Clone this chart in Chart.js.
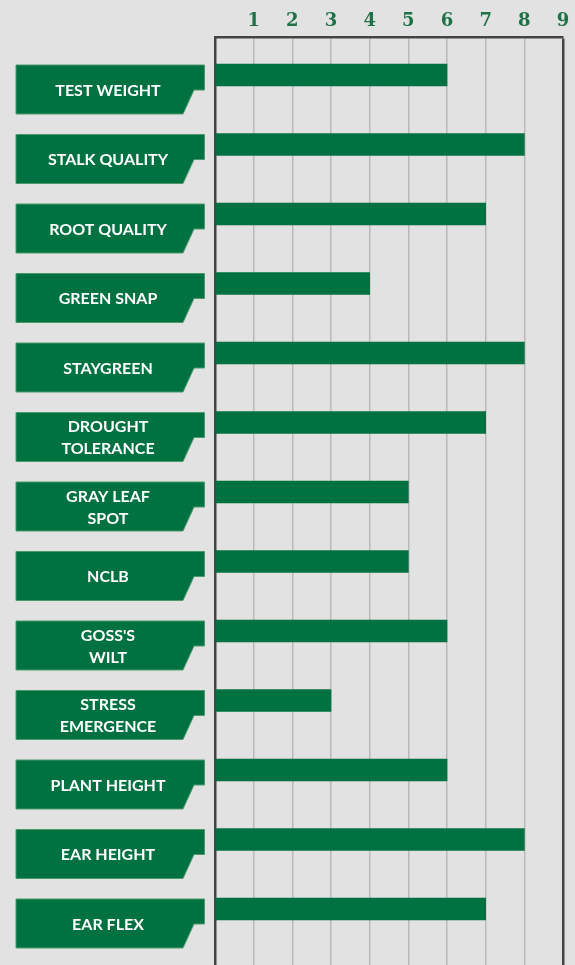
<!DOCTYPE html>
<html lang="en">
  <head>
    <meta charset="utf-8" />
    <title>trait ratings</title>
    <script src="https://cdn.jsdelivr.net/npm/chart.js@4.4.0/dist/chart.umd.min.js"></script>
    <style>
      html, body { margin: 0; padding: 0; background: #e2e2e2; }
      #wrap { width: 575px; height: 965px; position: relative; }
    </style>
  </head>
  <body>
    <div id="wrap"><canvas id="traits"></canvas></div>

    <script>
      // trait names (one array entry per label line)
      var traits = [
        ["TEST WEIGHT"],
        ["STALK QUALITY"],
        ["ROOT QUALITY"],
        ["GREEN SNAP"],
        ["STAYGREEN"],
        ["DROUGHT", "TOLERANCE"],
        ["GRAY LEAF", "SPOT"],
        ["NCLB"],
        ["GOSS'S", "WILT"],
        ["STRESS", "EMERGENCE"],
        ["PLANT HEIGHT"],
        ["EAR HEIGHT"],
        ["EAR FLEX"],
      ];
      var ratings = [6, 8, 7, 4, 8, 7, 5, 5, 6, 3, 6, 8, 7];
      var scaleTicks = [1, 2, 3, 4, 5, 6, 7, 8, 9];

      var green = "#007140";

      // green tag shapes with the trait names, left of the plot
      var traitTags = {
        id: "traitTags",
        afterDraw: function (chart) {
          var ctx = chart.ctx;
          var y = chart.scales.y;
          ctx.save();
          traits.forEach(function (lines, i) {
            var c = y.getPixelForValue(i);
            var top = c - 10, bottom = c + 39;
            var mid = top + 25;
            ctx.beginPath();
            ctx.moveTo(16, top);
            ctx.lineTo(204.5, top);
            ctx.lineTo(204.5, mid);
            ctx.lineTo(194, mid);
            ctx.lineTo(183, bottom);
            ctx.lineTo(16, bottom);
            ctx.closePath();
            ctx.fillStyle = green;
            ctx.fill();
            ctx.strokeStyle = "#4c9a6b";
            ctx.lineWidth = 1;
            ctx.stroke();

            ctx.fillStyle = "#ffffff";
            ctx.font = "bold 16px Lato";
            ctx.textAlign = "center";
            ctx.textBaseline = "middle";
            var cy = (top + bottom) / 2 + 1;
            var lh = 22;
            lines.forEach(function (t, k) {
              ctx.fillText(t, 108, cy + (k - (lines.length - 1) / 2) * lh);
            });
          });
          ctx.restore();
        },
      };

      var ctx = document.getElementById("traits").getContext("2d");
      var chart = new Chart(ctx, {
        type: "bar",
        data: {
          datasets: [
            {
              data: ratings.map(function (v, i) { return { x: v, y: i }; }),
              backgroundColor: green,
              borderWidth: 0,
              barThickness: 22,
            },
          ],
        },
        options: {
          indexAxis: "y",
          responsive: true,
          maintainAspectRatio: false,
          animation: false,
          layout: { padding: { left: 0, right: 12, top: 0, bottom: 0 } },
          plugins: {
            legend: { display: false },
            tooltip: { enabled: false },
          },
          scales: {
            x: {
              position: "top",
              min: 0,
              max: 9,
              afterFit: function (s) { s.height = 37; },
              ticks: {
                stepSize: 1,
                padding: 5,
                color: "#1f7246",
                font: { family: "DejaVu Serif", size: 18, weight: "bold" },
                callback: function (v) { return scaleTicks.indexOf(v) >= 0 ? v : ""; },
              },
              grid: {
                drawTicks: false,
                color: function (c) { return c.tick && c.tick.value === 9 ? "#444444" : "#b9b9b9"; },
                lineWidth: function (c) { return c.tick && c.tick.value === 9 ? 2.5 : 1.5; },
              },
              border: { display: true, color: "#444444", width: 2.5 },
            },
            y: {
              type: "linear",
              reverse: true,
              offset: false,
              min: -0.547,
              max: 12.806,
              afterFit: function (s) { s.width = 215; },
              ticks: { display: false },
              grid: { display: false, drawTicks: false, offset: false },
              border: { display: true, color: "#444444", width: 2.5 },
            },
          },
        },
        plugins: [traitTags],
      });
    </script>
  </body>
</html>
